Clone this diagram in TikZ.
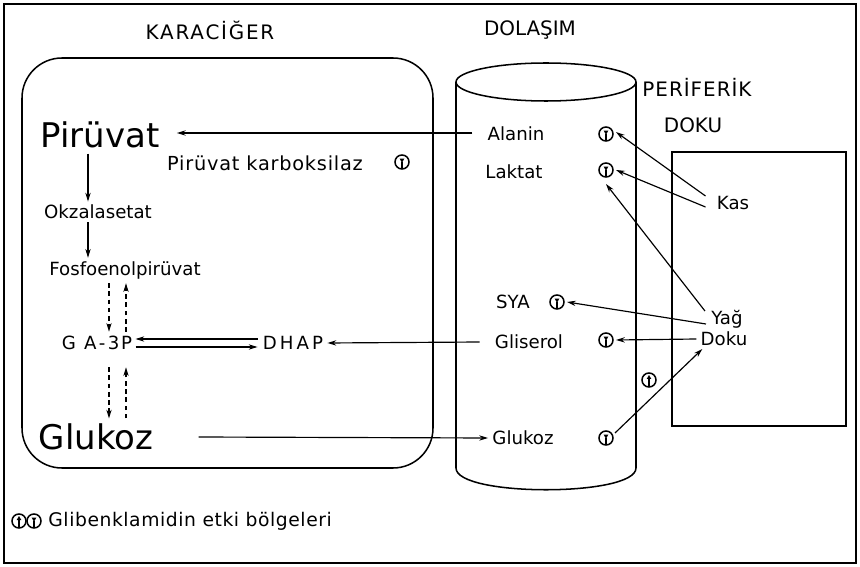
\documentclass[tikz,border=0pt]{standalone}
\usepackage{fontspec}
\setmainfont{DejaVu Sans}
\usetikzlibrary{arrows.meta,calc}
\begin{document}
\begin{tikzpicture}[x=0.03cm,y=-0.03cm,
 lbl/.style={inner sep=1pt,font=\fontsize{15.5}{18}\selectfont},
 big/.style={inner sep=1pt,font=\fontsize{29}{32}\selectfont},
 head/.style={inner sep=1pt,font=\fontsize{17}{20}\selectfont},
 arr/.style={line width=1pt,-{Stealth[length=7.5pt,width=4.5pt]}},
 dasharr/.style={arr,dash pattern=on 4pt off 3pt},
 shape line/.style={line width=1.3pt},
 symbase/.style={circle,draw,line width=1.3pt,minimum size=0.42cm,inner sep=0pt},
 symdn/.style={symbase,path picture={
   \fill (path picture bounding box.center) ++(-0.07cm,0.1cm) -- ++(0.14cm,0) -- ++(-0.07cm,-0.12cm) -- cycle;
   \draw[line width=1pt] (path picture bounding box.center) -- ++(0,-0.22cm);}},
 symup/.style={symbase,path picture={
   \fill (path picture bounding box.center) ++(0,0.15cm) -- ++(-0.07cm,-0.12cm) -- ++(0.14cm,0) -- cycle;
   \draw[line width=1pt] (path picture bounding box.center) ++(0,0.05cm) -- ++(0,-0.27cm);}},
]
\useasboundingbox (0,0) rectangle (860,567);
% frame
\draw[shape line] (4,4) rectangle (856,563);
% headings
\node[head] (kc) at (210,30) {\addfontfeature{LetterSpace=9}KARACİĞER};
\node[head] (dl) at (530,30) {DOLAŞIM};
\node[head] (pf) at (697,87) {\addfontfeature{LetterSpace=5}PERİFERİK};
\node[head] (dk) at (693,125) {DOKU};
% liver
\draw[shape line, rounded corners=1.2cm] (22,58) rectangle (433,468);
% cylinder
\draw[shape line] (546,82) ellipse [x radius=2.7cm, y radius=0.57cm];
\draw[shape line] (456,82) -- (456,468) .. controls (456,497) and (636,497) .. (636,468) -- (636,82);
% peripheral box
\draw[shape line] (672,152) rectangle (846,426);
% liver content
\node[big] (pir) at (100,135) {Pirüvat};
\node[lbl, font=\fontsize{16.5}{19}\selectfont] (pk) at (265,163) {\addfontfeature{LetterSpace=4}Pirüvat karboksilaz};
\node[symdn] (symP) at (402,162) {};
\node[lbl] (okz) at (98,212) {Okzalasetat};
\node[lbl] (fos) at (125,270) {Fosfoenolpirüvat};
\node[lbl] (ga) at (97,343) {G\hspace{7pt}A\hspace{2pt}-\hspace{2pt}3\hspace{1.5pt}P};
\node[lbl] (dhap) at (293,343) {D\,H\,A\,P};
\node[big] (glk) at (96,437) {Glukoz};
\draw[arr] ([shift={(-12,4)}]pir.south) -- ([shift={(-10,-2)}]okz.north);
\draw[arr] ([shift={(-10,2)}]okz.south) -- ([shift={(-37,-2)}]fos.north);
\draw[dasharr] ([shift={(-16,3)}]fos.south) -- ([shift={(12,-3)}]ga.north);
\draw[dasharr] ([shift={(29,-3)}]ga.north) -- ([shift={(1,3)}]fos.south);
\draw[dasharr] ([shift={(12,16)}]ga.south) -- ([shift={(13,-4)}]glk.north);
\draw[dasharr] ([shift={(30,-4)}]glk.north) -- ([shift={(29,16)}]ga.south);
\draw[arr] ([shift={(-4,-4)}]dhap.west) -- ([shift={(2,-4)}]ga.east);
\draw[arr] ([shift={(2,4)}]ga.east) -- ([shift={(-4,4)}]dhap.west);
% circulation content
\node[lbl] (ala) at (516,134) {Alanin};
\node[symdn] (symA) at (606,134) {};
\node[lbl] (lak) at (514,172) {Laktat};
\node[symdn] (symL) at (606,170) {};
\node[lbl] (sya) at (513,302) {SYA};
\node[symdn] (symS) at (557,302) {};
\node[lbl] (gli) at (529,342) {Gliserol};
\node[symdn] (symG) at (606,340) {};
\node[lbl] (glc) at (523,438) {Glukoz};
\node[symdn] (symK) at (606,438) {};
\node[symup] (symX) at (649,380) {};
% peripheral content
\node[lbl] (kas) at (733,203) {Kas};
\node[lbl] (yag) at (727,319) {Yağ};
\node[lbl] (doku) at (724,339) {Doku};
% connectors
\draw[arr] ([shift={(-14,-1)}]ala.west) -- ([shift={(16,-2)}]pir.east);
\draw[arr] ([shift={(-14,0)}]gli.west) -- ([shift={(3,0)}]dhap.east);
\draw[arr] ([shift={(44,0)}]glk.east) -- ([shift={(-3,0)}]glc.west);
\draw[arr] ([shift={(-10,-7)}]kas.west) -- ([shift={(10,-2)}]symA.center);
\draw[arr] ([shift={(-10,4)}]kas.west) -- ([shift={(10,0)}]symL.center);
\draw[arr] ([shift={(-5,-8)}]yag.west) -- ([shift={(0,14)}]symL.center);
\draw[arr] ([shift={(-4,5)}]yag.west) -- ([shift={(10,0)}]symS.center);
\draw[arr] ([shift={(-3,0)}]doku.west) -- ([shift={(10,0)}]symG.center);
\draw[arr] ([shift={(9,-5)}]symK.center) -- ([shift={(3,10)}]doku.west);
% legend
\node[symup] (lg1) at (19,521) {};
\node[symdn] (lg2) at (34,521) {};
\node[lbl, anchor=west, font=\fontsize{16}{18}\selectfont] (lgt) at (47,521) {\addfontfeature{LetterSpace=3}Glibenklamidin etki bölgeleri};
\end{tikzpicture}
\end{document}
